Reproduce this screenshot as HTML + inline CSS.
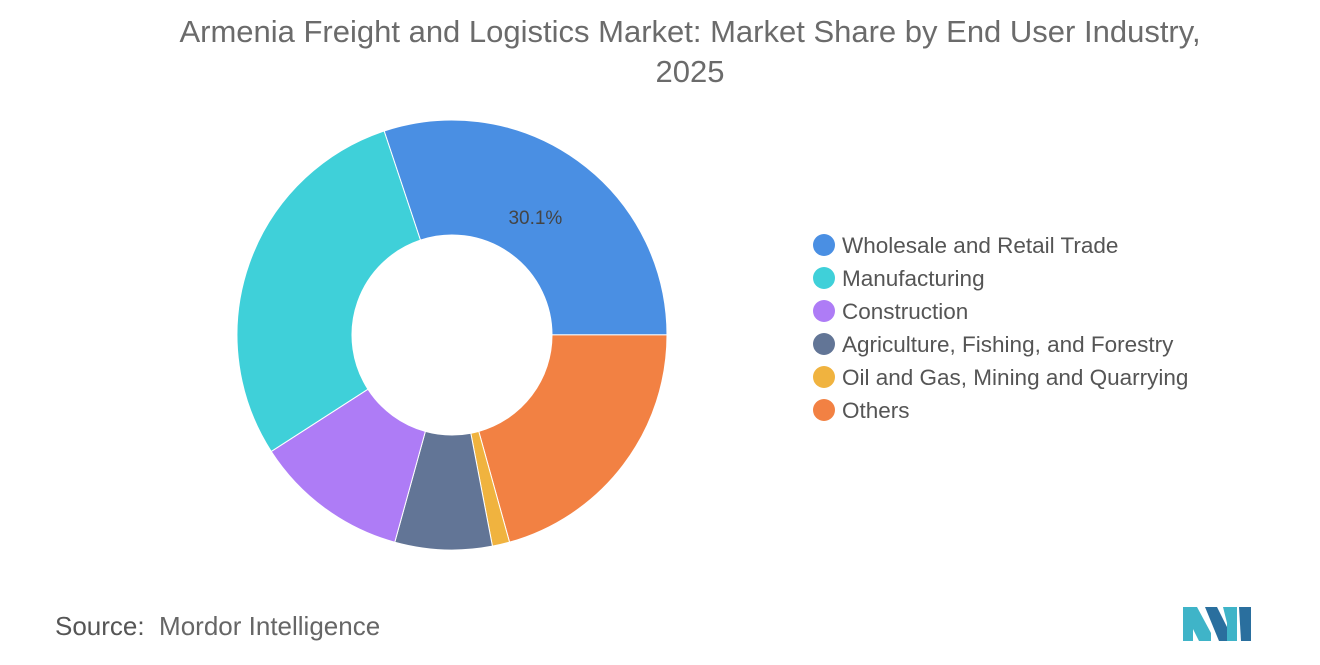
<!DOCTYPE html>
<html><head><meta charset="utf-8"><style>
body{margin:0;width:1320px;height:665px;background:#fff;font-family:"Liberation Sans",sans-serif;overflow:hidden;position:relative}
#title{position:absolute;left:0;top:12px;width:1380px;text-align:center;font-size:31px;line-height:40px;color:#6b6b6b}
#src{position:absolute;left:55px;top:611px;font-size:26px;color:#666}
#src b{font-weight:normal;color:#555}
</style></head><body>
<div id="title">Armenia Freight and Logistics Market: Market Share by End User Industry,<br>2025</div>
<svg id="chart" width="1320" height="665" style="position:absolute;left:0;top:0"></svg>
<div id="src"><b>Source:</b>&nbsp; Mordor Intelligence</div>
<svg style="position:absolute;left:1183px;top:603px" width="68" height="38">
<polygon points="0,38 0,4 14,4 28,30 28,38 16,38 10,26 10,38" fill="#3fb4c8"/>
<polygon points="22,4 34,4 46,28 46,38 36,38" fill="#2a6f9e"/>
<polygon points="40,4 54,4 54,38 44,38 44,20" fill="#3fb4c8"/>
<polygon points="56,4 68,4 68,38 58,38" fill="#2a6f9e"/>
</svg>
<script>
const categories=["Wholesale and Retail Trade","Manufacturing","Construction","Agriculture, Fishing, and Forestry","Oil and Gas, Mining and Quarrying","Others"];
const values=[30.1,29.0,11.6,7.3,1.3,20.7];
const colors=["#4a8fe3","#3fd0d9","#ae7cf6","#627596","#f0b33f","#f28143"];
const drawOrder=[0,5,4,3,2,1];
const startAngle=-18.4;
const cx=452,cy=335,R=215,r=100;
const svg=document.getElementById('chart');
const NS="http://www.w3.org/2000/svg";
const total=values.reduce((a,b)=>a+b,0);
function pt(deg,rad){const a=deg*Math.PI/180;return [cx+rad*Math.sin(a),cy-rad*Math.cos(a)];}
let ang=startAngle;
drawOrder.forEach(i=>{
  const sweep=values[i]/total*360;const a0=ang,a1=ang+sweep;ang=a1;
  const [x0,y0]=pt(a0,R),[x1,y1]=pt(a1,R),[x2,y2]=pt(a1,r),[x3,y3]=pt(a0,r);
  const lg=sweep>180?1:0;
  const p=document.createElementNS(NS,'path');
  p.setAttribute('d',`M${x0},${y0}A${R},${R} 0 ${lg} 1 ${x1},${y1}L${x2},${y2}A${r},${r} 0 ${lg} 0 ${x3},${y3}Z`);
  p.setAttribute('fill',colors[i]);p.setAttribute('stroke','#fff');p.setAttribute('stroke-width','1');
  
  
  svg.appendChild(p);
  if(i===0){
    const [lx,ly]=pt((a0+a1)/2,158);
    const t=document.createElementNS(NS,'text');
    t.setAttribute('x',lx-9);t.setAttribute('y',ly+17);t.setAttribute('text-anchor','middle');
    t.setAttribute('font-size','19');t.setAttribute('fill','#444');t.setAttribute('font-family','Liberation Sans, sans-serif');
    t.textContent=values[i].toFixed(1)+'%';
    
    
    svg.appendChild(t);
  }
});
categories.forEach((c,i)=>{
  const y=245+i*33;
  const g=document.createElementNS(NS,'g');
  
  
  const ci=document.createElementNS(NS,'circle');
  ci.setAttribute('cx',824);ci.setAttribute('cy',y);ci.setAttribute('r',11);ci.setAttribute('fill',colors[i]);
  const t=document.createElementNS(NS,'text');
  t.setAttribute('x',842);t.setAttribute('y',y+8);t.setAttribute('font-size','22.5');t.setAttribute('fill','#555');
  t.setAttribute('font-family','Liberation Sans, sans-serif');t.textContent=c;
  g.appendChild(ci);g.appendChild(t);svg.appendChild(g);
});
</script>
</body></html>
